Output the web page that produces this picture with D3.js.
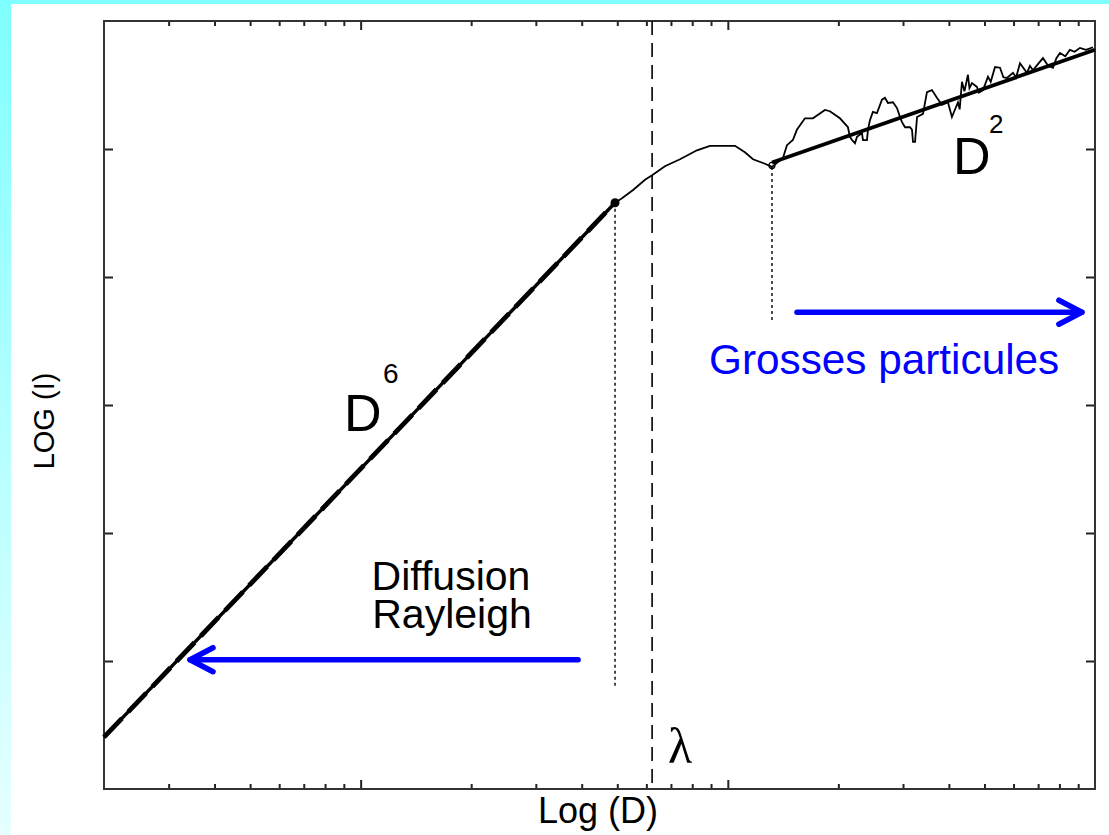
<!DOCTYPE html>
<html>
<head>
<meta charset="utf-8">
<script src="https://cdn.jsdelivr.net/npm/d3@7/dist/d3.min.js"></script>
<style>
  html, body { margin: 0; padding: 0; background: #ffffff; }
  svg { display: block; }
  text { font-family: "Liberation Sans", Arial, Helvetica, sans-serif; }
</style>
</head>
<body>
<svg id="chart" width="1109" height="835"></svg>
<script>
// Light intensity vs particle diameter (log-log): Rayleigh regime (D^6),
// Mie transition around the wavelength, and large-particle regime (D^2).

// Axis domains: diameter (log scale) and log of the scattered intensity
const diameterDomain = [2, 1000];
const logIntensityDomain = [0, 12];
const yTickValues = [2, 4, 6, 8, 10];

// Rayleigh fit segment (slope 6 in log-log)
const rayleighD = [2, 49.3];
const rayleighLogI = [0.81, 9.16];

// Geometric-optics fit segment (slope 2 in log-log)
const largeD = [131.9, 1000];
const largeLogI = [9.79, 11.55];

// Measured/computed curve through the Mie region and beyond
const mieD = [
  49.3, 51.5, 55.2, 59.5, 62.2, 67.4, 74.1, 82.4, 89.4, 104.6,
  111.3, 117.1, 126.2, 131.9, 141.3, 144.9, 150.4, 154.2, 162.2, 170.5,
  183.9, 189.7, 202.0, 212.4, 215.1, 217.8, 222.0, 224.8, 231.9, 233.4,
  239.3, 240.8, 243.8, 248.4, 254.8, 262.9, 267.9, 273.0, 281.7, 288.9,
  294.4, 298.1, 303.8, 313.5, 317.4, 319.4, 323.5, 327.6, 340.0, 348.6,
  359.7, 371.1, 383.0, 397.6, 407.7, 423.4, 428.0, 434.2, 441.0, 450.8,
  455.0, 462.3, 477.0, 483.0, 495.3, 511.2, 520.0, 534.2, 551.1, 563.0,
  575.7, 597.8, 610.0, 624.7, 652.7, 665.0, 677.6, 700.0, 721.6, 745.0,
  768.3, 785.0, 802.8, 830.0, 854.5, 880.0, 910.1, 945.0, 987.2
];
const mieLogI = [
  9.16, 9.23, 9.36, 9.52, 9.59, 9.73, 9.84, 9.98, 10.05, 10.05,
  9.95, 9.84, 9.77, 9.72, 9.86, 10.06, 10.14, 10.30, 10.48, 10.48,
  10.61, 10.59, 10.48, 10.34, 10.19, 10.14, 10.09, 10.19, 10.25, 10.14,
  10.14, 10.30, 10.45, 10.58, 10.56, 10.77, 10.80, 10.72, 10.73, 10.64,
  10.50, 10.42, 10.34, 10.34, 10.30, 10.11, 10.11, 10.50, 10.55, 10.89,
  10.92, 10.80, 10.69, 10.73, 10.50, 10.73, 10.62, 11.05, 10.90, 11.16,
  10.95, 11.03, 10.97, 10.88, 10.92, 11.13, 11.05, 11.28, 11.27, 11.12,
  11.11, 11.19, 11.12, 11.34, 11.19, 11.30, 11.23, 11.33, 11.42, 11.30,
  11.27, 11.42, 11.50, 11.45, 11.55, 11.52, 11.58, 11.55, 11.59
];

// Reference diameters for the vertical guides
const lambdaD = 62.2;
const rayleighLimit = { D: 49.3, from: 9.16, to: 1.58 };
const largeLimit = { D: 131.9, from: 9.72, to: 7.3 };

// Regime arrows (diameter range, log intensity level)
const rayleighArrow = { D0: 39.1, D1: 3.43, level: 2.02 };
const largeArrow = { D0: 154.3, D1: 921, level: 7.45 };

const svg = d3.select("#chart");
const W = 1109, H = 835;
const plot = { left: 104, right: 1095, top: 21, bottom: 789 };

// Background with cyan frame strips
const defs = svg.append("defs");
const grad = defs.append("linearGradient").attr("id", "stripGrad")
  .attr("x1", 0).attr("y1", 0).attr("x2", 0).attr("y2", 1);
grad.append("stop").attr("offset", "0%").attr("stop-color", "#7fffff");
grad.append("stop").attr("offset", "100%").attr("stop-color", "#e6ffff");

svg.append("rect").attr("width", W).attr("height", H).attr("fill", "#ffffff");
svg.append("rect").attr("x", 0).attr("y", 0).attr("width", 11).attr("height", H).attr("fill", "url(#stripGrad)");
svg.append("rect").attr("x", 0).attr("y", 0).attr("width", W).attr("height", 4).attr("fill", "#7fffff");

const x = d3.scaleLog().domain(diameterDomain).range([plot.left, plot.right]);
const y = d3.scaleLinear().domain(logIntensityDomain).range([plot.bottom, plot.top]);

// Ticks (pointing inward, no labels)
const isDecade = v => Math.abs(Math.log10(v) - Math.round(Math.log10(v))) < 1e-9;
const allX = x.ticks().filter(v => v > diameterDomain[0] && v < diameterDomain[1]);
const minorX = allX.filter(v => !isDecade(v));
const majorX = allX.filter(isDecade);

function styleAxis(g) {
  g.select(".domain").remove();
  g.selectAll(".tick line").attr("stroke", "#222").attr("stroke-width", 2);
  g.selectAll(".tick text").remove();
}

svg.append("g").attr("transform", `translate(0,${plot.bottom})`)
  .call(d3.axisBottom(x).tickValues(minorX).tickSize(-5).tickFormat("")).call(styleAxis);
svg.append("g").attr("transform", `translate(0,${plot.bottom})`)
  .call(d3.axisBottom(x).tickValues(majorX).tickSize(-9).tickFormat("")).call(styleAxis);
svg.append("g").attr("transform", `translate(0,${plot.top})`)
  .call(d3.axisTop(x).tickValues(minorX).tickSize(-5).tickFormat("")).call(styleAxis);
svg.append("g").attr("transform", `translate(0,${plot.top})`)
  .call(d3.axisTop(x).tickValues(majorX).tickSize(-9).tickFormat("")).call(styleAxis);
svg.append("g").attr("transform", `translate(${plot.left},0)`)
  .call(d3.axisLeft(y).tickValues(yTickValues).tickSize(-9).tickFormat("")).call(styleAxis);
svg.append("g").attr("transform", `translate(${plot.right},0)`)
  .call(d3.axisRight(y).tickValues(yTickValues).tickSize(-9).tickFormat("")).call(styleAxis);

// Frame
svg.append("rect")
  .attr("x", plot.left).attr("y", plot.top)
  .attr("width", plot.right - plot.left).attr("height", plot.bottom - plot.top)
  .attr("fill", "none").attr("stroke", "#333").attr("stroke-width", 2);

const line = d3.line().x(d => x(d[0])).y(d => y(d[1]));
const zip = (a, b) => a.map((v, i) => [v, b[i]]);

// Wavelength marker
svg.append("line")
  .attr("x1", x(lambdaD)).attr("x2", x(lambdaD))
  .attr("y1", plot.top).attr("y2", plot.bottom)
  .attr("stroke", "#000").attr("stroke-width", 1.6).attr("stroke-dasharray", "14,8");

// Regime limit guides
[rayleighLimit, largeLimit].forEach(g => {
  svg.append("line")
    .attr("x1", x(g.D)).attr("x2", x(g.D))
    .attr("y1", y(g.from)).attr("y2", y(g.to))
    .attr("stroke", "#000").attr("stroke-width", 1.4).attr("stroke-dasharray", "3,3");
});

// Full curve
svg.append("path").datum(zip(mieD, mieLogI))
  .attr("d", line).attr("fill", "none")
  .attr("stroke", "#000").attr("stroke-width", 1.8).attr("stroke-linejoin", "miter");

// Rayleigh fit (solid with heavier dashes on top)
const rayleighPts = zip(rayleighD, rayleighLogI);
svg.append("path").datum(rayleighPts).attr("d", line)
  .attr("fill", "none").attr("stroke", "#000").attr("stroke-width", 3.4);
svg.append("path").datum(rayleighPts).attr("d", line)
  .attr("fill", "none").attr("stroke", "#000").attr("stroke-width", 4.8)
  .attr("stroke-dasharray", "26,9");
svg.append("circle")
  .attr("cx", x(rayleighD[1])).attr("cy", y(rayleighLogI[1])).attr("r", 4.5).attr("fill", "#000");

// Large-particle fit
svg.append("path").datum(zip(largeD, largeLogI)).attr("d", line)
  .attr("fill", "none").attr("stroke", "#000").attr("stroke-width", 3.8);
svg.append("circle")
  .attr("cx", x(largeD[0])).attr("cy", y(largeLogI[0]) + 3).attr("r", 3)
  .attr("fill", "none").attr("stroke", "#000").attr("stroke-width", 1.2);

// Blue regime arrows
function arrow(a, dir) {
  const x0 = x(a.D0), x1 = x(a.D1), yy = y(a.level);
  const g = svg.append("g").attr("stroke", "#0000ff").attr("fill", "none")
    .attr("stroke-width", 5.5).attr("stroke-linecap", "round").attr("stroke-linejoin", "round");
  g.append("line").attr("x1", x0).attr("x2", x1).attr("y1", yy).attr("y2", yy);
  g.append("polyline").attr("points",
    `${x1 - dir * 23},${yy - 12} ${x1},${yy} ${x1 - dir * 23},${yy + 12}`);
}
arrow(rayleighArrow, -1);
arrow(largeArrow, 1);

// Labels
svg.append("text").attr("x", 344).attr("y", 431).attr("font-size", 52).text("D");
svg.append("text").attr("x", 383).attr("y", 383).attr("font-size", 28).text("6");
svg.append("text").attr("x", 953).attr("y", 174).attr("font-size", 52).text("D");
svg.append("text").attr("x", 989).attr("y", 133).attr("font-size", 26).text("2");

svg.append("text").attr("x", 451).attr("y", 590).attr("font-size", 41)
  .attr("text-anchor", "middle").text("Diffusion");
svg.append("text").attr("x", 452).attr("y", 628).attr("font-size", 41)
  .attr("text-anchor", "middle").text("Rayleigh");

svg.append("text").attr("x", 709).attr("y", 374).attr("font-size", 42.3)
  .attr("fill", "#0000ff").text("Grosses particules");

svg.append("text").attr("x", 668).attr("y", 763).attr("font-size", 50)
  .style("font-family", "'Liberation Serif', 'Times New Roman', serif").text("λ");

svg.append("text").attr("x", 598).attr("y", 823).attr("font-size", 36)
  .attr("text-anchor", "middle").text("Log (D)");

svg.append("text").attr("transform", "translate(54,421) rotate(-90)")
  .attr("font-size", 29).attr("text-anchor", "middle").text("LOG (I)");
</script>
</body>
</html>
